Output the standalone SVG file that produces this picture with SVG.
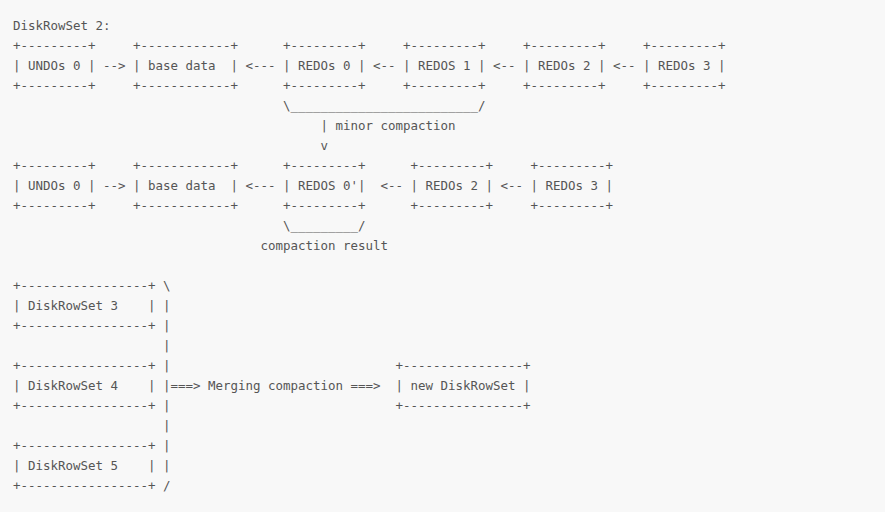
<svg xmlns="http://www.w3.org/2000/svg" width="885" height="512" viewBox="0 0 885 512">
<style>
text{font-family:"DejaVu Sans Mono","Liberation Mono",monospace;font-size:12.46px;fill:#555;white-space:pre}
</style>
<rect width="885" height="512" fill="#f8f8f8"/>
<text x="13" y="29.5">DiskRowSet 2:</text>
<g id="undos0-a"><text x="13" y="49.5">+---------+</text><text x="13" y="69.5">| UNDOs 0 |</text><text x="13" y="89.5">+---------+</text></g>
<g id="base-a"><text x="133" y="49.5">+------------+</text><text x="133" y="69.5">| base data  |</text><text x="133" y="89.5">+------------+</text></g>
<g id="redos0-a"><text x="283" y="49.5">+---------+</text><text x="283" y="69.5">| REDOs 0 |</text><text x="283" y="89.5">+---------+</text></g>
<g id="redos1-a"><text x="403" y="49.5">+---------+</text><text x="403" y="69.5">| REDOS 1 |</text><text x="403" y="89.5">+---------+</text></g>
<g id="redos2-a"><text x="523" y="49.5">+---------+</text><text x="523" y="69.5">| REDOs 2 |</text><text x="523" y="89.5">+---------+</text></g>
<g id="redos3-a"><text x="643" y="49.5">+---------+</text><text x="643" y="69.5">| REDOs 3 |</text><text x="643" y="89.5">+---------+</text></g>
<g id="undos0-b"><text x="13" y="169.5">+---------+</text><text x="13" y="189.5">| UNDOs 0 |</text><text x="13" y="209.5">+---------+</text></g>
<g id="base-b"><text x="133" y="169.5">+------------+</text><text x="133" y="189.5">| base data  |</text><text x="133" y="209.5">+------------+</text></g>
<g id="redos0p-b"><text x="283" y="169.5">+---------+</text><text x="283" y="189.5">| REDOS 0'|</text><text x="283" y="209.5">+---------+</text></g>
<g id="redos2-b"><text x="410.5" y="169.5">+---------+</text><text x="410.5" y="189.5">| REDOs 2 |</text><text x="410.5" y="209.5">+---------+</text></g>
<g id="redos3-b"><text x="530.5" y="169.5">+---------+</text><text x="530.5" y="189.5">| REDOs 3 |</text><text x="530.5" y="209.5">+---------+</text></g>
<g id="drs3"><text x="13" y="289.5">+-----------------+</text><text x="13" y="309.5">| DiskRowSet 3    |</text><text x="13" y="329.5">+-----------------+</text></g>
<g id="drs4"><text x="13" y="369.5">+-----------------+</text><text x="13" y="389.5">| DiskRowSet 4    |</text><text x="13" y="409.5">+-----------------+</text></g>
<g id="drs5"><text x="13" y="449.5">+-----------------+</text><text x="13" y="469.5">| DiskRowSet 5    |</text><text x="13" y="489.5">+-----------------+</text></g>
<g id="newdrs"><text x="395.5" y="369.5">+----------------+</text><text x="395.5" y="389.5">| new DiskRowSet |</text><text x="395.5" y="409.5">+----------------+</text></g>
<g id="connectors">
<text x="103" y="69.5">--&gt;</text>
<text x="245.5" y="69.5">&lt;---</text>
<text x="373" y="69.5">&lt;--</text>
<text x="493" y="69.5">&lt;--</text>
<text x="613" y="69.5">&lt;--</text>
<text x="283" y="109.5">\_________________________/</text>
<text x="320.5" y="129.5">| minor compaction</text>
<text x="320.5" y="149.5">v</text>
<text x="103" y="189.5">--&gt;</text>
<text x="245.5" y="189.5">&lt;---</text>
<text x="380.5" y="189.5">&lt;--</text>
<text x="500.5" y="189.5">&lt;--</text>
<text x="283" y="229.5">\_________/</text>
<text x="260.5" y="249.5">compaction result</text>
<text x="163" y="289.5">\</text>
<text x="163" y="309.5">|</text>
<text x="163" y="329.5">|</text>
<text x="163" y="349.5">|</text>
<text x="163" y="369.5">|</text>
<text x="163" y="389.5">|===&gt; Merging compaction ===&gt;</text>
<text x="163" y="409.5">|</text>
<text x="163" y="429.5">|</text>
<text x="163" y="449.5">|</text>
<text x="163" y="469.5">|</text>
<text x="163" y="489.5">/</text>
</g>
</svg>
